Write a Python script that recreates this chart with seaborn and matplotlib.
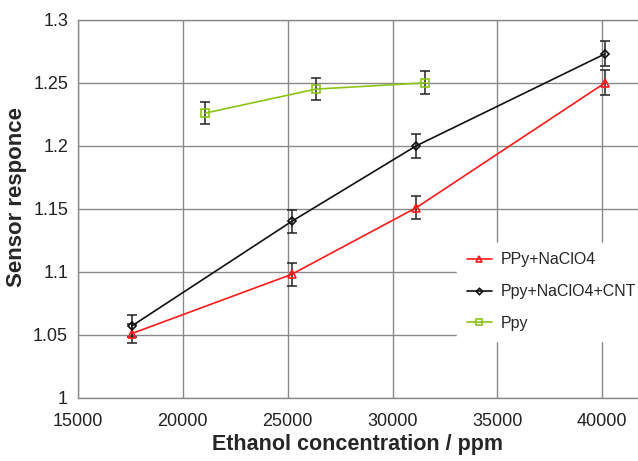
import matplotlib
matplotlib.use('Agg')
import matplotlib.pyplot as plt
import seaborn as sns

# Data
conc_red = [17570, 25190, 31140, 40130]
resp_red = [1.051, 1.098, 1.151, 1.250]
err_red = [0.0075, 0.009, 0.009, 0.010]

conc_black = [17570, 25190, 31130, 40130]
resp_black = [1.057, 1.140, 1.200, 1.273]
err_black = [0.009, 0.009, 0.0095, 0.010]

conc_green = [21080, 26330, 31570]
resp_green = [1.226, 1.245, 1.250]
err_green = [0.0085, 0.009, 0.009]

labels = ['PPy+NaClO4', 'Ppy+NaClO4+CNT', 'Ppy']

sns.set_style('white')
plt.rcParams['font.family'] = ['Liberation Sans', 'DejaVu Sans']

fig = plt.figure(figsize=(6.38, 4.61), dpi=100)
ax = fig.add_axes([0.122, 0.137, 0.878, 0.820])

series = [
    (conc_red, resp_red, err_red, '#ff1a1a', '^', 6, labels[0]),
    (conc_black, resp_black, err_black, '#111111', 'D', 4, labels[1]),
    (conc_green, resp_green, err_green, '#8cc414', 's', 6, labels[2]),
]

for xs, ys, es, col, mk, ms, lab in series:
    ax.errorbar(xs, ys, yerr=es, fmt='none', ecolor='#222222',
                elinewidth=1.1, capsize=3.5, capthick=1.1, zorder=3)
    sns.lineplot(x=xs, y=ys, ax=ax, color=col, marker=mk, markersize=ms,
                 markerfacecolor='none', markeredgecolor=col, markeredgewidth=1.2,
                 linewidth=1.2, label=lab, zorder=4)

ax.set_xlim(15000, 41700)
ax.set_ylim(1.0, 1.3)
ax.set_xticks([15000, 20000, 25000, 30000, 35000, 40000])
ax.set_yticks([1.0, 1.05, 1.1, 1.15, 1.2, 1.25, 1.3])
ax.set_yticklabels(['1', '1.05', '1.1', '1.15', '1.2', '1.25', '1.3'])

ax.grid(True, color='#8a8a8a', linewidth=1.0)
for side in ['left', 'top', 'bottom']:
    ax.spines[side].set_color('#8a8a8a')
    ax.spines[side].set_linewidth(1.0)
ax.spines['right'].set_visible(False)
ax.tick_params(axis='both', direction='out', length=4, width=1.0,
               color='#8a8a8a', labelsize=13, labelcolor='#222222')
ax.tick_params(axis='x', pad=7)
ax.tick_params(axis='y', pad=3)

ax.set_xlabel('Ethanol concentration / ppm', fontsize=15.5, fontweight='bold',
              labelpad=3)
ax.set_ylabel('Sensor responce', fontsize=16, fontweight='bold')
ax.yaxis.set_label_coords(-0.09, 0.53)

leg = ax.legend(loc='upper left', bbox_to_anchor=(0.677, 0.41), borderaxespad=0,
                frameon=True, fontsize=11.5, handlelength=1.6, handletextpad=0.55,
                labelspacing=1.05, fancybox=False, borderpad=0.6,
                markerscale=0.8)
leg.get_frame().set_facecolor('white')
leg.get_frame().set_edgecolor('white')
leg.get_frame().set_alpha(1.0)
leg.set_zorder(10)

fig.savefig('out.png', dpi=100)
